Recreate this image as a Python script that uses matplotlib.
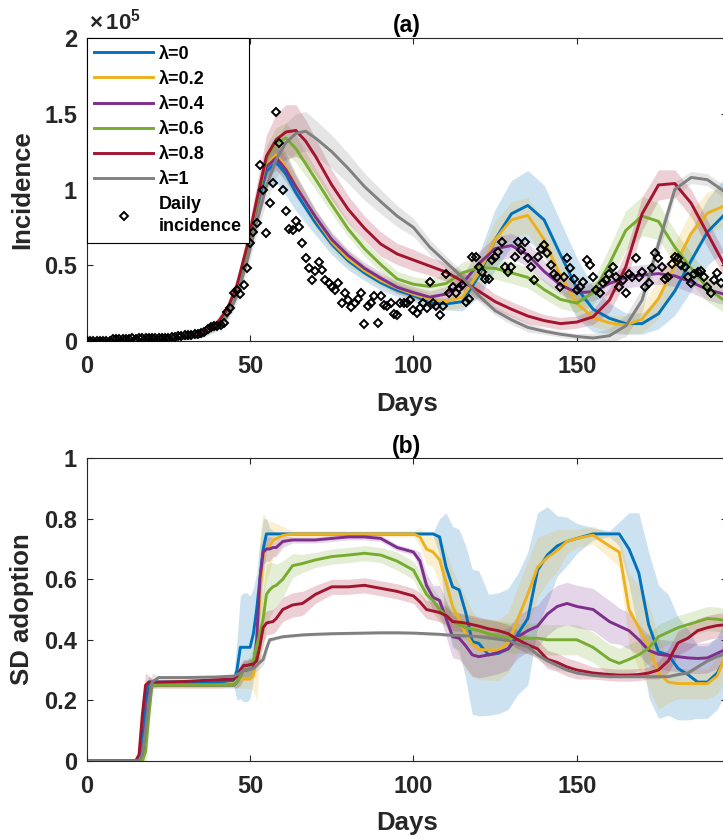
import numpy as np
import matplotlib
matplotlib.use('Agg')
from matplotlib import pyplot as plt
from matplotlib.ticker import FormatStrFormatter

plt.rcParams['font.family'] = ['Liberation Sans', 'DejaVu Sans']
plt.rcParams['font.weight'] = 'bold'
plt.rcParams['mathtext.fontset'] = 'custom'
plt.rcParams['mathtext.rm'] = 'Liberation Sans'

#%% data
labels = ['λ=0', 'λ=0.2', 'λ=0.4', 'λ=0.6', 'λ=0.8', 'λ=1']
colors = ['#0072BD', '#EDB120', '#7E2F8E', '#77AC30', '#A2142F', '#808080']

# (a) incidence, units of 1e5
days_a = [0, 10, 20, 30, 35, 40, 43, 46, 49, 52, 55, 58, 61, 64, 67, 70, 75, 80, 85, 90,
          95, 100, 105, 110, 115, 120, 125, 130, 135, 140, 145, 150, 155, 160, 165, 170,
          175, 180, 185, 190, 195]
inc_l0 = [0, .003, .006, .02, .045, .11, .19, .34, .59, .88, 1.12, 1.18, 1.10, 0.98, 0.88,
          0.78, 0.64, 0.53, 0.45, 0.385, 0.335, 0.30, 0.255, 0.245, 0.26, 0.43, 0.67, 0.84,
          0.895, 0.80, 0.57, 0.35, 0.21, 0.15, 0.115, 0.115, 0.18, 0.33, 0.53, 0.72, 0.83]
inc_l2 = [0, .003, .006, .02, .045, .11, .19, .34, .59, .89, 1.16, 1.23, 1.15, 1.03, 0.92,
          0.81, 0.655, 0.545, 0.465, 0.40, 0.35, 0.31, 0.275, 0.26, 0.29, 0.45, 0.67, 0.80,
          0.83, 0.67, 0.43, 0.25, 0.155, 0.12, 0.105, 0.145, 0.28, 0.50, 0.71, 0.845, 0.89]
inc_l4 = [0, .003, .006, .02, .045, .11, .19, .34, .59, .89, 1.15, 1.21, 1.13, 1.02, 0.92,
          0.82, 0.67, 0.565, 0.48, 0.415, 0.355, 0.32, 0.29, 0.31, 0.38, 0.51, 0.61, 0.63,
          0.57, 0.46, 0.37, 0.32, 0.325, 0.38, 0.42, 0.435, 0.445, 0.43, 0.39, 0.34, 0.31]
inc_l6 = [0, .003, .006, .02, .045, .11, .19, .34, .60, .90, 1.20, 1.31, 1.34, 1.27, 1.17,
          1.07, 0.90, 0.74, 0.61, 0.505, 0.41, 0.375, 0.36, 0.38, 0.45, 0.485, 0.48, 0.45,
          0.42, 0.34, 0.275, 0.25, 0.32, 0.51, 0.73, 0.825, 0.79, 0.62, 0.48, 0.35, 0.27]
inc_l8 = [0, .003, .006, .022, .05, .12, .21, .37, .62, .93, 1.22, 1.33, 1.38, 1.39, 1.32,
          1.22, 1.03, 0.87, 0.745, 0.64, 0.575, 0.535, 0.495, 0.455, 0.395, 0.33, 0.26, 0.21,
          0.165, 0.135, 0.115, 0.125, 0.16, 0.27, 0.49, 0.84, 1.03, 1.04, 0.91, 0.71, 0.51]
inc_l10 = [0, .003, .006, .018, .04, .095, .165, .30, .52, .78, 1.02, 1.20, 1.31, 1.37, 1.385,
           1.34, 1.25, 1.14, 1.02, 0.92, 0.825, 0.75, 0.62, 0.52, 0.42, 0.30, 0.20, 0.14,
           0.09, 0.065, 0.045, 0.03, 0.02, 0.035, 0.10, 0.27, 0.64, 1.0, 1.08, 1.065, 0.99]
# half width of shaded band
inc_w0 = [0, .003, .005, .01, .02, .03, .04, .05, .06, .07, .10, .14, .14, .12, .10, .08, .07,
          .06, .05, .05, .04, .04, .04, .04, .06, .14, .20, .22, .23, .23, .22, .20, .15, .10,
          .07, .07, .10, .16, .20, .22, .24]
inc_w2 = [0, .003, .005, .01, .02, .03, .04, .05, .06, .07, .08, .09, .09, .08, .07, .06, .05,
          .05, .04, .04, .04, .04, .04, .05, .07, .10, .12, .12, .12, .12, .10, .08, .06, .05,
          .06, .09, .13, .15, .15, .14, .13]
inc_w4 = [0, .003, .005, .01, .02, .03, .04, .05, .06, .07, .08, .08, .08, .07, .06, .05, .05,
          .04, .04, .04, .04, .04, .04, .05, .06, .08, .08, .08, .08, .07, .06, .06, .06, .07,
          .07, .07, .07, .07, .07, .07, .07]
inc_w6 = [0, .003, .005, .01, .02, .03, .04, .05, .06, .07, .09, .10, .10, .09, .08, .07, .06,
          .05, .05, .05, .05, .05, .05, .06, .07, .07, .07, .07, .07, .06, .06, .06, .08, .11,
          .13, .13, .12, .11, .10, .09, .08]
inc_w8 = [0, .003, .005, .01, .02, .03, .04, .05, .07, .10, .14, .17, .18, .17, .14, .12, .10,
          .09, .08, .08, .07, .07, .06, .06, .06, .06, .05, .05, .05, .04, .04, .04, .05, .08,
          .10, .11, .10, .09, .09, .09, .08]
inc_w10 = [0, .003, .005, .01, .02, .03, .04, .05, .06, .08, .10, .12, .13, .13, .13, .12, .11,
           .10, .09, .08, .07, .06, .05, .04, .04, .04, .03, .03, .03, .02, .02, .02, .03, .05,
           .07, .08, .07, .05, .04, .04, .04]

obs_days = np.arange(0, 195)
obs_inc = [0.002, 0.002, 0.002, 0.002, 0.002, 0.002, 0.002, 0.003, 0.014, 0.015,
           0.016, 0.015, 0.016, 0.015, 0.017, 0.016, 0.017, 0.018, 0.017, 0.018,
           0.019, 0.018, 0.020, 0.021, 0.020, 0.022, 0.024, 0.026, 0.030, 0.033,
           0.037, 0.040, 0.042, 0.045, 0.046, 0.050, 0.062, 0.080, 0.095, 0.100,
           0.098, 0.105, 0.120, 0.190, 0.220, 0.320, 0.340, 0.310, 0.370, 0.480,
           0.650, 0.720, 0.780, 1.160, 1.000, 0.710, 0.910, 1.040, 1.510, 1.310,
           1.000, 0.860, 0.740, 0.730, 0.790, 0.755, 0.645, 0.545, 0.485, 0.400,
           0.460, 0.520, 0.470, 0.400, 0.380, 0.360, 0.335, 0.380, 0.250, 0.320,
           0.270, 0.225, 0.250, 0.280, 0.315, 0.110, 0.230, 0.250, 0.300, 0.120,
           0.300, 0.240, 0.230, 0.250, 0.180, 0.170, 0.250, 0.250, 0.250, 0.270,
           0.205, 0.185, 0.215, 0.250, 0.215, 0.390, 0.250, 0.230, 0.170, 0.230,
           0.445, 0.315, 0.360, 0.315, 0.350, 0.370, 0.260, 0.280, 0.555, 0.555,
           0.490, 0.455, 0.410, 0.410, 0.535, 0.555, 0.590, 0.655, 0.490, 0.455,
           0.490, 0.555, 0.655, 0.600, 0.655, 0.545, 0.490, 0.400, 0.555, 0.610,
           0.635, 0.580, 0.500, 0.445, 0.420, 0.360, 0.420, 0.545, 0.480, 0.410,
           0.335, 0.360, 0.390, 0.535, 0.500, 0.420, 0.335, 0.315, 0.380, 0.400,
           0.445, 0.490, 0.420, 0.360, 0.400, 0.315, 0.445, 0.420, 0.545, 0.420,
           0.455, 0.360, 0.380, 0.480, 0.580, 0.545, 0.490, 0.410, 0.420, 0.510,
           0.555, 0.545, 0.500, 0.490, 0.420, 0.380, 0.445, 0.455, 0.465, 0.420,
           0.360, 0.315, 0.400, 0.450, 0.380]

# (b) SD adoption
days_b = [0, 15, 16, 17, 18, 19, 20, 22, 30, 40, 45, 46, 47, 48, 49, 50, 51, 52, 53, 54, 55,
          56, 57, 58, 60, 63, 66, 70, 75, 80, 85, 90, 95, 100, 102, 104, 106, 108, 110, 112,
          114, 116, 118, 120, 123, 126, 129, 132, 135, 138, 141, 144, 147, 150, 155, 160, 163,
          166, 169, 172, 175, 178, 181, 184, 187, 190, 193, 196]
sd_l0 = [0, 0, 0, 0.05, 0.2, 0.26, 0.26, 0.26, 0.26, 0.26, 0.265, 0.30, 0.375, 0.375, 0.375,
         0.375, 0.42, 0.50, 0.60, 0.70, 0.75, 0.75, 0.75, 0.75, 0.75, 0.75, 0.75, 0.75, 0.75,
         0.75, 0.75, 0.75, 0.75, 0.75, 0.75, 0.75, 0.75, 0.74, 0.64, 0.575, 0.565, 0.49, 0.394,
         0.388, 0.35, 0.355, 0.37, 0.42, 0.47, 0.63, 0.68, 0.71, 0.725, 0.735, 0.75, 0.75,
         0.75, 0.70, 0.62, 0.45, 0.36, 0.35, 0.305, 0.285, 0.26, 0.26, 0.29, 0.35]
sd_l2 = [0, 0, 0, 0, 0.08, 0.2, 0.25, 0.25, 0.25, 0.25, 0.255, 0.265, 0.27, 0.27, 0.27, 0.27,
         0.28, 0.35, 0.55, 0.68, 0.70, 0.71, 0.73, 0.735, 0.745, 0.75, 0.75, 0.75, 0.75, 0.75,
         0.75, 0.75, 0.75, 0.75, 0.74, 0.70, 0.69, 0.665, 0.59, 0.51, 0.465, 0.42, 0.385,
         0.368, 0.366, 0.366, 0.39, 0.47, 0.55, 0.64, 0.672, 0.695, 0.725, 0.735, 0.746, 0.71,
         0.69, 0.50, 0.44, 0.38, 0.29, 0.26, 0.255, 0.255, 0.255, 0.255, 0.28, 0.36]
sd_l4 = [0, 0, 0, 0, 0.1, 0.22, 0.25, 0.25, 0.25, 0.25, 0.25, 0.26, 0.28, 0.30, 0.30, 0.305,
         0.31, 0.40, 0.60, 0.69, 0.70, 0.70, 0.705, 0.705, 0.725, 0.73, 0.73, 0.73, 0.735,
         0.74, 0.74, 0.735, 0.705, 0.69, 0.66, 0.58, 0.54, 0.53, 0.47, 0.41, 0.405, 0.38, 0.35,
         0.344, 0.35, 0.358, 0.37, 0.41, 0.43, 0.445, 0.485, 0.51, 0.52, 0.51, 0.50, 0.46,
         0.445, 0.43, 0.40, 0.365, 0.352, 0.348, 0.344, 0.34, 0.338, 0.34, 0.355, 0.37]
sd_l6 = [0, 0, 0, 0, 0.03, 0.15, 0.25, 0.25, 0.25, 0.25, 0.25, 0.26, 0.28, 0.30, 0.30, 0.31,
         0.33, 0.38, 0.42, 0.47, 0.55, 0.565, 0.575, 0.58, 0.60, 0.645, 0.652, 0.664, 0.675,
         0.68, 0.686, 0.68, 0.66, 0.63, 0.59, 0.55, 0.53, 0.50, 0.48, 0.46, 0.45, 0.44, 0.435,
         0.43, 0.42, 0.412, 0.408, 0.405, 0.405, 0.405, 0.40, 0.40, 0.40, 0.40, 0.375, 0.335,
         0.322, 0.335, 0.35, 0.372, 0.41, 0.425, 0.44, 0.45, 0.46, 0.47, 0.468, 0.462]
sd_l8 = [0, 0, 0.02, 0.15, 0.25, 0.26, 0.26, 0.26, 0.262, 0.268, 0.27, 0.28, 0.30, 0.315,
         0.315, 0.318, 0.32, 0.33, 0.38, 0.44, 0.455, 0.458, 0.46, 0.47, 0.50, 0.515, 0.52,
         0.55, 0.575, 0.575, 0.58, 0.57, 0.56, 0.545, 0.525, 0.50, 0.495, 0.49, 0.48, 0.46,
         0.458, 0.455, 0.45, 0.445, 0.436, 0.43, 0.42, 0.40, 0.383, 0.37, 0.335, 0.325, 0.31,
         0.30, 0.29, 0.285, 0.283, 0.283, 0.285, 0.29, 0.30, 0.33, 0.39, 0.405, 0.43, 0.44,
         0.447, 0.45]
sd_l10 = [0, 0, 0, 0.02, 0.1, 0.2, 0.26, 0.275, 0.275, 0.277, 0.28, 0.285, 0.29, 0.30, 0.30,
          0.303, 0.305, 0.315, 0.325, 0.335, 0.37, 0.40, 0.402, 0.405, 0.41, 0.413, 0.416,
          0.418, 0.42, 0.421, 0.422, 0.423, 0.423, 0.422, 0.421, 0.42, 0.419, 0.418, 0.416,
          0.415, 0.414, 0.413, 0.412, 0.41, 0.406, 0.402, 0.398, 0.385, 0.377, 0.35, 0.33,
          0.315, 0.30, 0.29, 0.282, 0.278, 0.278, 0.278, 0.278, 0.278, 0.278, 0.278, 0.285,
          0.29, 0.31, 0.33, 0.345, 0.355]
sd_w0 = [0, 0, 0.02, 0.05, 0.04, 0.02, 0.01, 0.01, 0.01, 0.01, 0.02, 0.10, 0.17, 0.18, 0.18,
         0.17, 0.15, 0.12, 0.12, 0.10, 0.05, 0.02, 0.01] + [0.005] * 14 + [
         0.06, 0.18, 0.20, 0.20, 0.22, 0.24, 0.24, 0.20, 0.20, 0.20, 0.20, 0.22, 0.19, 0.16,
         0.10, 0.08, 0.05, 0.02, 0.01, 0.04, 0.12, 0.20, 0.24, 0.22, 0.20, 0.17, 0.15, 0.12,
         0.12, 0.12, 0.12]
sd_w2 = [0, 0, 0, 0.03, 0.05, 0.04, 0.01, 0.01, 0.01, 0.01, 0.01, 0.02, 0.03, 0.03, 0.03,
         0.03, 0.05, 0.15, 0.20, 0.14, 0.10, 0.08, 0.06, 0.05, 0.03] + [0.01] * 9 + [
         0.03, 0.05, 0.05, 0.08, 0.10, 0.12, 0.12, 0.12, 0.11, 0.10, 0.10, 0.10, 0.10, 0.11,
         0.11, 0.10, 0.08, 0.07, 0.04, 0.03, 0.03, 0.04, 0.05, 0.12, 0.14, 0.14, 0.12, 0.07,
         0.05, 0.05, 0.05, 0.05, 0.06, 0.08]
sd_w4 = [0, 0, 0, 0.03, 0.05, 0.04, 0.01, 0.01, 0.01, 0.01, 0.01, 0.02, 0.03, 0.03, 0.03,
         0.03, 0.03, 0.05, 0.05, 0.04, 0.04, 0.04, 0.03, 0.03, 0.02] + [0.01] * 9 + [
         0.03, 0.04, 0.04, 0.05, 0.06] + [0.07] * 17 + [0.06, 0.06] + [0.05] * 10
sd_w6 = [0, 0, 0, 0.03, 0.05, 0.05, 0.01, 0.005, 0.005, 0.005, 0.005, 0.02, 0.03, 0.03, 0.03,
         0.04, 0.05, 0.07, 0.09, 0.10, 0.10, 0.09, 0.08, 0.07, 0.06, 0.04, 0.03, 0.025, 0.025,
         0.025, 0.025, 0.025, 0.03, 0.03] + [0.04] * 10 + [0.05] * 16 + [0.04] * 8
sd_w8 = [0, 0, 0.03, 0.05, 0.04, 0.02, 0.01, 0.005, 0.005, 0.005, 0.005, 0.01, 0.02, 0.02,
         0.02, 0.02, 0.02, 0.02, 0.04, 0.05, 0.04, 0.04, 0.04, 0.04, 0.04, 0.04, 0.04, 0.03,
         0.025, 0.025, 0.025, 0.025, 0.025, 0.025] + [0.03] * 20 + [0.02] * 6 + [
         0.03, 0.04, 0.04, 0.04, 0.04, 0.04, 0.04, 0.04]
sd_w10 = [0, 0, 0.02, 0.05, 0.06, 0.05, 0.03, 0.005, 0.005, 0.005, 0.005, 0.01] + [0.02] * 9 + [
          0.01] + [0.005] * 25 + [0.015] * 5 + [0.005] * 16

inc_all = [inc_l0, inc_l2, inc_l4, inc_l6, inc_l8, inc_l10]
inc_wid = [inc_w0, inc_w2, inc_w4, inc_w6, inc_w8, inc_w10]
sd_all = [sd_l0, sd_l2, sd_l4, sd_l6, sd_l8, sd_l10]
sd_wid = [sd_w0, sd_w2, sd_w4, sd_w6, sd_w8, sd_w10]

DARK = '#262626'


def style_ax(ax):
    for sp in ax.spines.values():
        sp.set_color(DARK)
        sp.set_linewidth(0.8)
    ax.tick_params(direction='in', top=True, right=True, length=4.5, width=0.8,
                   colors=DARK, labelsize=17)
    ax.tick_params(axis='x', pad=10)
    ax.tick_params(axis='y', pad=7)
    for t in ax.get_xticklabels() + ax.get_yticklabels():
        t.set_fontweight('bold')


fig = plt.figure(figsize=(7.23, 8.40), dpi=100)
ax1 = fig.add_axes([0.12, 0.594, 0.8856, 0.3607])
ax2 = fig.add_axes([0.12, 0.0944, 0.8856, 0.36])

#%% (a)
x = np.array(days_a)
for i in range(6):
    y = np.array(inc_all[i])
    w = np.array(inc_wid[i])
    ax1.fill_between(x, y - w, y + w, color=colors[i], alpha=0.2, lw=0)
    ax1.plot(x, y, color=colors[i], lw=2.1, label=labels[i])
ax1.plot(obs_days, obs_inc, 'D', ms=3.6, mfc='none', mec='k', mew=1.4,
         label='Daily\nincidence', zorder=5)
ax1.set_xlim(0, 196)
ax1.set_ylim(0, 2)
ax1.set_xticks([0, 50, 100, 150])
ax1.set_yticks([0, 0.5, 1, 1.5, 2])
ax1.yaxis.set_major_formatter(FormatStrFormatter('%g'))
ax1.set_xlabel('Days', fontsize=18.5, fontweight='bold', color=DARK, labelpad=10)
ax1.set_ylabel('Incidence', fontsize=18.5, fontweight='bold', color=DARK, labelpad=7)
ax1.set_title('(a)', fontsize=16.5, fontweight='bold', pad=4)
ax1.text(0.003, 1.012, r'$\mathregular{\times\,10^{5}}$', transform=ax1.transAxes,
         fontsize=16, ha='left', va='bottom', color=DARK)
style_ax(ax1)
leg = ax1.legend(loc='upper left', bbox_to_anchor=(0, 1), borderaxespad=0, fancybox=False,
                 edgecolor='k', framealpha=1, fontsize=13, handlelength=3.25,
                 labelspacing=0.45, borderpad=0.42, handletextpad=0.3)
leg.get_frame().set_linewidth(0.8)
for t in leg.get_texts():
    t.set_fontweight('bold')
    t.set_linespacing(1.35)

#%% (b)
x = np.array(days_b)
for i in range(6):
    y = np.array(sd_all[i])
    w = np.array(sd_wid[i])
    ax2.fill_between(x, y - w, y + w, color=colors[i], alpha=0.2, lw=0)
    ax2.plot(x, y, color=colors[i], lw=2.1)
ax2.set_xlim(0, 196)
ax2.set_ylim(0, 1)
ax2.set_xticks([0, 50, 100, 150])
ax2.set_yticks([0, 0.2, 0.4, 0.6, 0.8, 1])
ax2.yaxis.set_major_formatter(FormatStrFormatter('%g'))
ax2.set_xlabel('Days', fontsize=18.5, fontweight='bold', color=DARK, labelpad=10)
ax2.set_ylabel('SD adoption', fontsize=18.5, fontweight='bold', color=DARK, labelpad=7)
ax2.set_title('(b)', fontsize=16.5, fontweight='bold', pad=4)
style_ax(ax2)

fig.savefig('out.png', dpi=100)
